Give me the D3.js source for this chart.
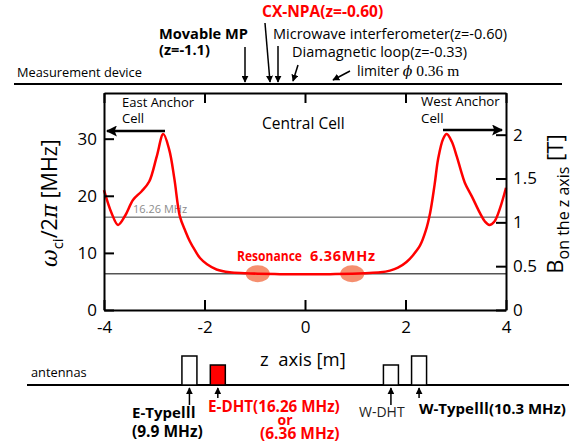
<!DOCTYPE html>
<html lang="en">
<head>
<meta charset="utf-8">
<title>Ion cyclotron frequency along z axis</title>
<script src="https://cdnjs.cloudflare.com/ajax/libs/d3/7.8.5/d3.min.js"></script>
<style>
  body { margin: 0; background: #fff; }
  svg { display: block; font-family: "Open Sans", sans-serif; }
  .tick text { font-family: "Open Sans", sans-serif; }
</style>
</head>
<body>
<script>
// curve: z [m] -> omega_ci/2pi [MHz]
const zPos = [-4, -3.85, -3.72, -3.58, -3.42, -3.25, -3.1, -2.95, -2.82, -2.7, -2.6, -2.49,
  -2.38, -2.29, -2.18, -2.09, -1.95, -1.76, -1.5, -1.2, -0.94, -0.5, 0,
  0.5, 0.94, 1.2, 1.5, 1.69, 1.85, 2.02, 2.15, 2.29, 2.4, 2.49, 2.58, 2.65, 2.75, 2.82,
  2.92, 3.02, 3.1, 3.18, 3.32, 3.48, 3.58, 3.67, 3.77, 3.88, 4];
const freqMHz = [21.0, 17.0, 14.9, 16.5, 19.3, 20.8, 22.5, 26.9, 30.8, 28.0, 23.0, 16.4,
  13.8, 12.0, 10.3, 9.1, 8.0, 7.1, 6.6, 6.45, 6.36, 6.28, 6.25,
  6.28, 6.36, 6.45, 6.6, 6.9, 7.4, 8.4, 9.6, 11.3, 13.8, 17.0, 22.0, 26.5, 30.0, 30.8,
  29.5, 26.9, 24.5, 22.3, 19.9, 17.0, 15.5, 14.9, 15.5, 17.8, 21.4];

const xTicks = [-4, -2, 0, 2, 4];
const leftTicks = [0, 10, 20, 30];
const rightTicks = [0, 0.5, 1, 1.5, 2];
const refLines = [16.26, 6.36];
const resonanceZ = [-0.94, 0.94];
const mhzPerTesla = 15.35;

const antennaNames = ["E-TypeⅢ", "E-DHT", "W-DHT", "W-TypeⅢ"];
const antennaZ = [-2.3, -1.735, 1.71, 2.27];

var w = 579, h = 443;
var svg = d3.select("body").append("svg")
  .attr("width", w).attr("height", h);

svg.append("defs").append("marker")
  .attr("id", "head")
  .attr("markerUnits", "userSpaceOnUse")
  .attr("viewBox", "0 0 10 10")
  .attr("refX", 9).attr("refY", 5)
  .attr("markerWidth", 7).attr("markerHeight", 7)
  .attr("orient", "auto")
  .append("path").attr("d", "M0,0 L10,5 L0,10 Z").attr("fill", "#000");

svg.select("defs").append("marker")
  .attr("id", "bighead")
  .attr("markerUnits", "userSpaceOnUse")
  .attr("viewBox", "0 0 10 10")
  .attr("refX", 9).attr("refY", 5)
  .attr("markerWidth", 11).attr("markerHeight", 11)
  .attr("orient", "auto")
  .append("path").attr("d", "M0,0 L10,5 L0,10 L2,5 Z").attr("fill", "#000");

var x = d3.scaleLinear().domain([-4, 4]).range([104, 506]);
var y = d3.scaleLinear().domain([0, 38]).range([310, 93]);
var yB = d3.scaleLinear().domain([0, 38 / mhzPerTesla]).range([310, 93]);

// reference frequency lines
svg.selectAll(".ref")
  .data(refLines)
  .enter().append("line")
  .attr("x1", x(-4)).attr("x2", x(4))
  .attr("y1", d => y(d)).attr("y2", d => y(d))
  .attr("stroke", (d, i) => i == 0 ? "#444" : "#555")
  .attr("stroke-width", (d, i) => i == 0 ? 1 : 1.5);

svg.append("text").attr("x", 133).attr("y", y(16.26) - 4)
  .attr("font-size", 11).attr("fill", "#8c8c8c").text("16.26 MHz");

// resonance spots
svg.selectAll(".res")
  .data(resonanceZ)
  .enter().append("ellipse")
  .attr("cx", d => x(d)).attr("cy", y(6.36))
  .attr("rx", 12).attr("ry", 8.5)
  .attr("fill", "#f4835f").attr("opacity", 0.9);

var line = d3.line()
  .x(d => x(d[0])).y(d => y(d[1]))
  .curve(d3.curveCatmullRom.alpha(0.5));

svg.append("path")
  .datum(d3.zip(zPos, freqMHz))
  .attr("d", line)
  .attr("fill", "none").attr("stroke", "#f00").attr("stroke-width", 2.5);

// axes, ticks pointing inward
function styleAxis(g, size) {
  g.select(".domain").attr("stroke-width", 2);
  g.selectAll(".tick line").attr("stroke-width", 2);
  g.selectAll(".tick text").attr("font-size", size).attr("fill", "#000");
}
var plain = d => String(d);

svg.append("g").attr("transform", "translate(0,310)")
  .call(d3.axisBottom(x).tickValues(xTicks).tickSize(-10).tickSizeOuter(0).tickPadding(11)
    .tickFormat(plain))
  .call(g => styleAxis(g, 17));
svg.append("g").attr("transform", "translate(0,93)")
  .call(d3.axisTop(x).tickValues(xTicks).tickSize(-10).tickSizeOuter(0).tickFormat(""))
  .call(g => styleAxis(g, 17));
svg.append("g").attr("transform", "translate(104,0)")
  .call(d3.axisLeft(y).tickValues(leftTicks).tickSize(-10).tickSizeOuter(0).tickPadding(7)
    .tickFormat(plain))
  .call(g => styleAxis(g, 17));
svg.append("g").attr("transform", "translate(506,0)")
  .call(d3.axisRight(yB).tickValues(rightTicks).tickSize(-10).tickSizeOuter(0).tickPadding(7)
    .tickFormat(plain))
  .call(g => styleAxis(g, 17));

// axis titles
var yl = svg.append("text").attr("transform", "translate(57,203) rotate(-90)")
  .attr("text-anchor", "middle").attr("font-size", 21.5);
yl.append("tspan").attr("font-family", "DejaVu Serif").attr("font-style", "italic").text("ω");
yl.append("tspan").attr("font-size", 15).attr("dy", 6).text("ci");
yl.append("tspan").attr("dy", -6).text("/2");
yl.append("tspan").attr("font-family", "DejaVu Serif").attr("font-style", "italic").text("π");
yl.append("tspan").text(" [MHz]");

var yr = svg.append("text").attr("transform", "translate(563,204) rotate(-90)")
  .attr("text-anchor", "middle").attr("font-size", 22);
yr.append("tspan").text("B");
yr.append("tspan").attr("font-size", 16).attr("dy", 6).text("on the z axis");
yr.append("tspan").attr("dy", -6).text(" [T]");

svg.append("text").attr("x", 260).attr("y", 366).attr("font-size", 18.5)
  .attr("xml:space", "preserve").text("z  axis [m]");

// labels inside the plot
svg.append("text").attr("x", 237).attr("y", 261).attr("font-size", 13.5)
  .attr("font-weight", "bold").attr("fill", "#f00")
  .attr("textLength", 65).attr("lengthAdjust", "spacingAndGlyphs").text("Resonance");
svg.append("text").attr("x", 310).attr("y", 261).attr("font-size", 14.5)
  .attr("font-weight", "bold").attr("fill", "#f00")
  .attr("textLength", 65).attr("lengthAdjust", "spacing").text("6.36MHz");

svg.append("text").attr("x", 122).attr("y", 107).attr("font-size", 13).text("East Anchor");
svg.append("text").attr("x", 122).attr("y", 123).attr("font-size", 13).text("Cell");
svg.append("text").attr("x", 421).attr("y", 106).attr("font-size", 13.3).text("West Anchor");
svg.append("text").attr("x", 421).attr("y", 123).attr("font-size", 13.3).text("Cell");
svg.append("text").attr("x", 262).attr("y", 129).attr("font-size", 15.5).text("Central Cell");

svg.append("line").attr("x1", 165).attr("y1", 131).attr("x2", 107).attr("y2", 131)
  .attr("stroke", "#000").attr("stroke-width", 2.5).attr("marker-end", "url(#bighead)");
svg.append("line").attr("x1", 443).attr("y1", 130).attr("x2", 502).attr("y2", 130)
  .attr("stroke", "#000").attr("stroke-width", 2.5).attr("marker-end", "url(#bighead)");

// measurement devices
svg.append("text").attr("x", 17).attr("y", 77).attr("font-size", 12.8).text("Measurement device");
svg.append("line").attr("x1", 14).attr("x2", 562).attr("y1", 84).attr("y2", 84)
  .attr("stroke", "#000").attr("stroke-width", 2);

svg.append("text").attr("x", 262).attr("y", 17).attr("font-size", 15.5)
  .attr("font-weight", "bold").attr("fill", "#f00").text("CX-NPA(z=-0.60)");
svg.append("text").attr("x", 159).attr("y", 39).attr("font-size", 14.6)
  .attr("font-weight", "bold").text("Movable MP");
svg.append("text").attr("x", 159).attr("y", 55).attr("font-size", 14.6)
  .attr("font-weight", "bold").text("(z=-1.1)");
svg.append("text").attr("x", 273).attr("y", 39).attr("font-size", 14.5)
  .text("Microwave interferometer(z=-0.60)");
svg.append("text").attr("x", 292).attr("y", 57).attr("font-size", 14.5)
  .text("Diamagnetic loop(z=-0.33)");
var lim = svg.append("text").attr("x", 357).attr("y", 76).attr("font-size", 14);
lim.append("tspan").text("limiter ");
lim.append("tspan").attr("font-family", "DejaVu Serif").attr("font-style", "italic").text("ϕ");
lim.append("tspan").attr("font-family", "Liberation Serif").attr("font-size", 15.5).text(" 0.36 m");

var devArrows = [[245, 47, 245, 82], [265, 23, 270, 82], [278, 46, 278, 82], [298, 65, 293, 81], [350, 71, 333, 80]];
svg.selectAll(".dev")
  .data(devArrows)
  .enter().append("line")
  .attr("x1", d => d[0]).attr("y1", d => d[1]).attr("x2", d => d[2]).attr("y2", d => d[3])
  .attr("stroke", "#000").attr("stroke-width", 1.5).attr("marker-end", "url(#head)");

// antennas
svg.append("text").attr("x", 31).attr("y", 377).attr("font-size", 12.8).text("antennas");
svg.append("line").attr("x1", 27).attr("x2", 569).attr("y1", 385).attr("y2", 385)
  .attr("stroke", "#000").attr("stroke-width", 2);

var tall = n => n.indexOf("Type") >= 0;
svg.selectAll(".ant")
  .data(antennaNames)
  .enter().append("rect")
  .attr("x", (d, i) => x(antennaZ[i]) - 7.5)
  .attr("y", d => tall(d) ? 356 : 365)
  .attr("width", 15)
  .attr("height", d => tall(d) ? 29 : 20)
  .attr("fill", d => d == "E-DHT" ? "#f00" : "#fff")
  .attr("stroke", "#000").attr("stroke-width", 1.5);

svg.selectAll(".antArrow")
  .data(antennaNames)
  .enter().append("line")
  .attr("x1", (d, i) => x(antennaZ[i])).attr("x2", (d, i) => x(antennaZ[i]))
  .attr("y1", (d, i) => (i == 0 || i == 2) ? 405 : 398).attr("y2", 388)
  .attr("stroke", "#000").attr("stroke-width", 1.5).attr("marker-end", "url(#head)");

function typeLabel(t, xx, yy, rest) {
  var tx = svg.append("text").attr("x", xx).attr("y", yy).attr("font-size", 15)
    .attr("font-weight", "bold");
  tx.append("tspan").text(t);
  tx.append("tspan").attr("font-family", "Noto Sans CJK JP").text("Ⅲ");
  if (rest) tx.append("tspan").text(rest);
}
typeLabel("E-Type", 132, 418, null);
svg.append("text").attr("x", 132).attr("y", 437).attr("font-size", 15.5)
  .attr("font-weight", "bold").text("(9.9 MHz)");
svg.append("text").attr("x", 208).attr("y", 412).attr("font-size", 15.2)
  .attr("font-weight", "bold").attr("fill", "#f00").text("E-DHT(16.26 MHz)");
svg.append("text").attr("x", 285).attr("y", 425).attr("font-size", 14).attr("text-anchor", "middle")
  .attr("font-weight", "bold").attr("fill", "#f00").text("or");
svg.append("text").attr("x", 260).attr("y", 439).attr("font-size", 15.5)
  .attr("font-weight", "bold").attr("fill", "#f00").text("(6.36 MHz)");
svg.append("text").attr("x", 359).attr("y", 417).attr("font-size", 14)
  .attr("fill", "#222").text("W-DHT");
typeLabel("W-Type", 419, 414, "(10.3 MHz)");
</script>
</body>
</html>
